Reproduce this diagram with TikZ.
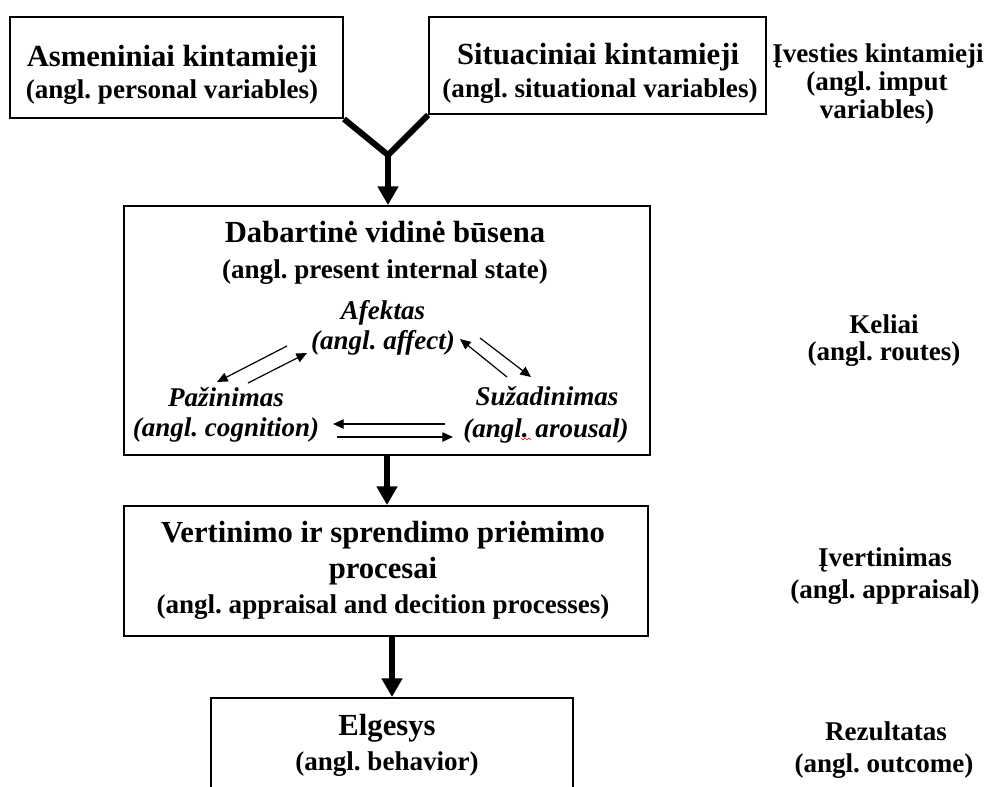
\documentclass[tikz,border=0pt]{standalone}
\usepackage{fontspec}
\setmainfont{Liberation Serif}
\usetikzlibrary{arrows.meta}
\frenchspacing
\begin{document}
\begin{tikzpicture}[x=0.75pt,y=-0.75pt,
  frame/.style={draw, line width=1.5pt, inner sep=0pt},
  ttl/.style={font=\bfseries\fontsize{23}{27}\selectfont, anchor=base, inner sep=0pt},
  sub/.style={font=\bfseries\fontsize{20.3}{24}\selectfont, anchor=base, inner sep=0pt},
  itl/.style={font=\bfseries\itshape\fontsize{20.3}{24}\selectfont, anchor=base, inner sep=0pt},
  side/.style={font=\bfseries\fontsize{20.3}{24}\selectfont, anchor=base, inner sep=0pt},
  bigline/.style={line width=4.5pt},
  bigarrow/.style={line width=4.5pt, -{Triangle[length=14pt,width=15pt]}},
  smallarrow/.style={line width=0.9pt, -{Triangle[length=8pt,width=7pt]}}
]
\useasboundingbox (0,0) rectangle (987,786);
\clip (0,0) rectangle (987,786);

% boxes
\node[frame, minimum width=249.75pt, minimum height=75.75pt] (b1) at (176.5,67.5) {};
\node[frame, minimum width=252.75pt, minimum height=72.75pt] (b2) at (597.5,65.5) {};
\node[frame, minimum width=394.5pt, minimum height=186.75pt] (b3) at (387,330.5) {};
\node[frame, minimum width=393pt, minimum height=97.5pt] (b4) at (386,571) {};
\node[frame, minimum width=271.5pt, minimum height=99pt] (b5) at (392,764) {};

% box texts
\node[ttl] (t1) at (172,66) {Asmeniniai kintamieji};
\node[sub] (s1) at (172,98) {(angl. personal variables)};
\node[ttl] (t2) at (598,64) {Situaciniai kintamieji};
\node[sub] (s2) at (600,97) {(angl. situational variables)};
\node[ttl] (t3) at (385,242) {Dabartinė vidinė būsena};
\node[sub] (s3) at (385,278) {(angl. present internal state)};
\node[itl] (af1) at (383,319) {Afektas};
\node[itl] (af2) at (383,349) {(angl. affect)};
\node[itl] (pz1) at (226,406) {Pažinimas};
\node[itl] (pz2) at (226,436) {(angl. cognition)};
\node[itl] (sz1) at (547,405) {Sužadinimas};
\node[itl] (sz2) at (546,437) {(angl. arousal)};
\node[ttl] (t4) at (383,542) {Vertinimo ir sprendimo priėmimo};
\node[ttl] (t4b) at (383,578) {procesai};
\node[sub] (s4) at (383,613) {(angl. appraisal and decition processes)};
\node[ttl] (t5) at (387,735) {Elgesys};
\node[sub] (s5) at (387,770) {(angl. behavior)};

% side labels
\node[side] (r1a) at (878,62) {Įvesties kintamieji};
\node[side] (r1b) at (877,90) {(angl. imput};
\node[side] (r1c) at (877,118) {variables)};
\node[side] (r2a) at (884,333) {Keliai};
\node[side] (r2b) at (884,360) {(angl. routes)};
\node[side] (r3a) at (885,566) {Įvertinimas};
\node[side] (r3b) at (885,598) {(angl. appraisal)};
\node[side] (r4a) at (886,740) {Rezultatas};
\node[side] (r4b) at (884,772) {(angl. outcome)};

% main connectors
\coordinate (J) at (388,155);
\draw[bigline] (b1.south east) -- (J) -- (b2.south west);
\draw[bigarrow] (J) -- (J |- b3.north);
\draw[bigarrow] (b3.south) -- (b3.south |- b4.north);
\draw[bigarrow] (b5.north |- b4.south) -- (b5.north);

% inner routes
\coordinate (l1s) at (287,346); \coordinate (l1e) at (217,382);
\coordinate (l2s) at (248,383); \coordinate (l2e) at (307,353);
\coordinate (r1s) at (507,377); \coordinate (r1e) at (460,339);
\coordinate (r2s) at (480,338); \coordinate (r2e) at (531,377);
\coordinate (h1s) at (445,424); \coordinate (h1e) at (333,424);
\coordinate (h2s) at (337,437); \coordinate (h2e) at (453,437);
\draw[smallarrow] (l1s) -- (l1e);
\draw[smallarrow] (l2s) -- (l2e);
\draw[smallarrow] (r1s) -- (r1e);
\draw[smallarrow] (r2s) -- (r2e);
\draw[smallarrow] (h1s) -- (h1e);
\draw[smallarrow] (h2s) -- (h2e);

% spell-check squiggle
\draw[red, line width=0.5pt] (521,438) -- (523,440) -- (525,438) -- (527,440) -- (529,438) -- (531,440);
\end{tikzpicture}
\end{document}
